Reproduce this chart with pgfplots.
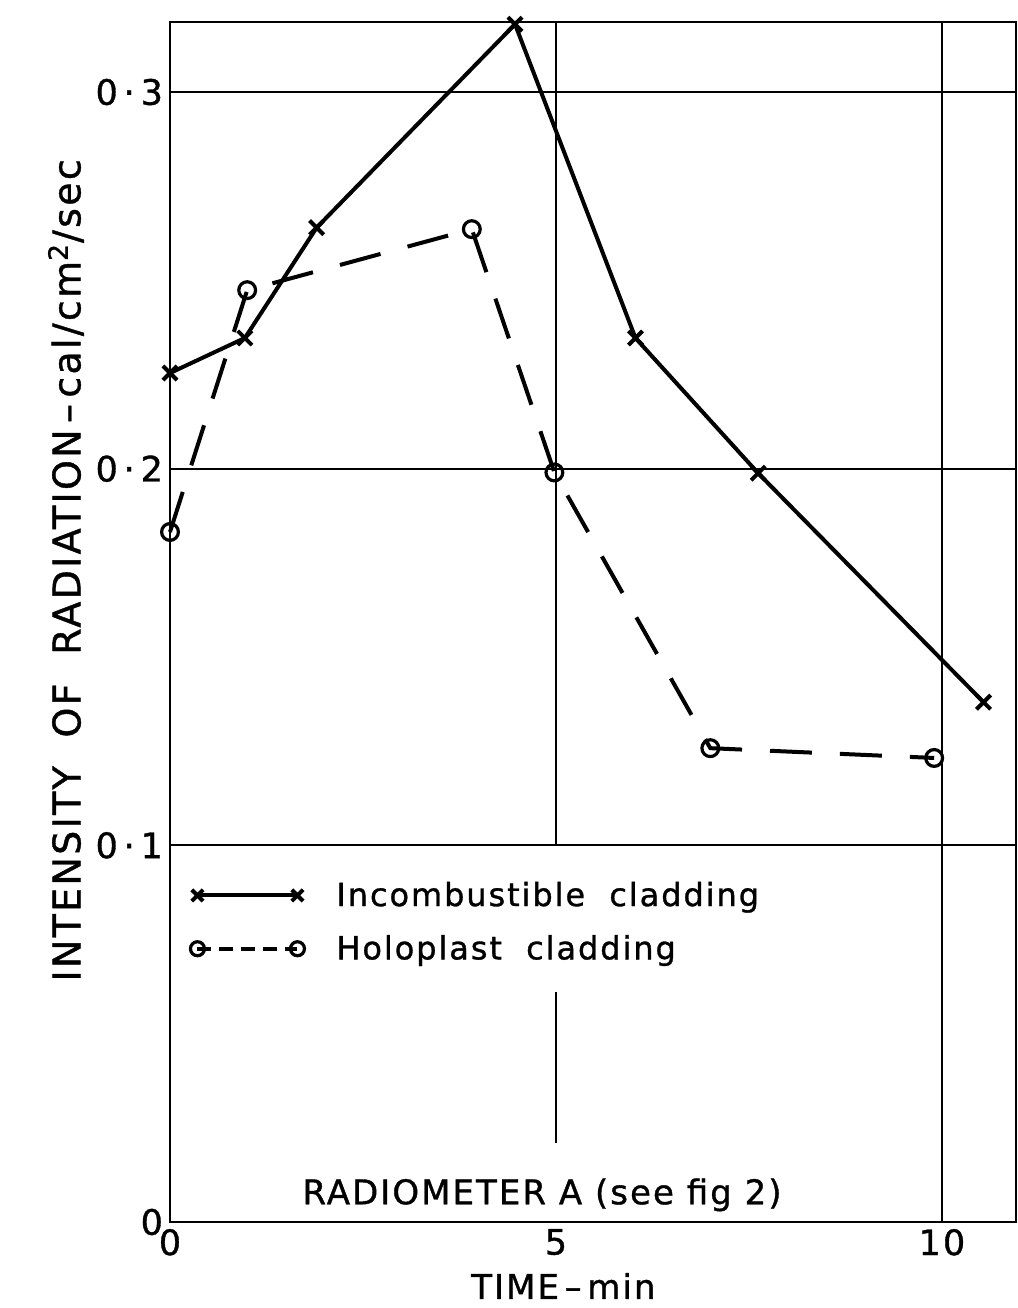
\documentclass[border=0pt]{standalone}
\usepackage{fontspec}
\setmainfont[LetterSpace=6, FakeBold=1]{DejaVu Sans}
\usepackage{pgfplots}
\pgfplotsset{compat=1.18}
\pgfplotsset{
  solidlegend/.style={legend image code/.code={\draw[##1, mark size=4pt] plot coordinates {(0pt,0pt) (50pt,0pt)};}},
  dashlegend/.style={legend image code/.code={\draw[##1, mark size=3.5pt, dash pattern=on 7pt off 4pt] plot coordinates {(0pt,0pt) (50pt,0pt)};}},
}
\begin{document}
\begin{tikzpicture}[font=\fontsize{16}{19}\selectfont]
\useasboundingbox (-85pt,-43pt) rectangle (424pt,611pt);
\begin{axis}[
  scale only axis, width=423pt, height=600pt,
  xmin=0, xmax=10.96, ymin=0, ymax=0.3186,
  axis line style={line width=1.2pt},
  xtick={0,5,10}, xticklabels={0,5,10},
  ytick={0,0.1,0.2,0.3}, yticklabels={0, 0\,·\,1, 0\,·\,2, 0\,·\,3},
  major tick length=0pt,
  /pgf/number format/assume math mode=true,
  tick label style={font=\fontsize{17.5}{20}\selectfont},
  xlabel={TIME\,–\,min},
  xlabel style={at={([yshift=-32pt]axis description cs:0.465,0)}, anchor=center, font=\fontsize{17}{20}\selectfont},
  ylabel={INTENSITY\ \ OF\ \ RADIATION\,–\,cal/cm\textsuperscript{2}/sec},
  ylabel style={at={([xshift=-52pt]axis description cs:0,0.543)}, anchor=center, font=\fontsize{19}{22}\selectfont},
  clip=false,
  legend style={at={(axis cs:0.26,0.0915)}, anchor=north west, draw=none, fill=none,
    inner sep=0pt, row sep=9pt, font=\fontsize{16}{19}\selectfont, cells={anchor=west},
    /tikz/every odd column/.append style={column sep=14pt}},
]
% grid lines
\addplot[line width=0.9pt, forget plot] coordinates {(0,0.1) (10.96,0.1)};
\addplot[line width=0.9pt, forget plot] coordinates {(0,0.2) (10.96,0.2)};
\addplot[line width=0.9pt, forget plot] coordinates {(0,0.3) (10.96,0.3)};
\addplot[line width=0.9pt, forget plot] coordinates {(5,0.1) (5,0.3186)};
\addplot[line width=0.9pt, forget plot] coordinates {(5,0.021) (5,0.061)};
\addplot[line width=0.9pt, forget plot] coordinates {(10,0) (10,0.3186)};
% data
\addplot[line width=2pt, mark=x, mark size=5pt, mark options={line width=2pt}, solidlegend]
  coordinates {(0,0.2254) (0.97,0.2347) (1.9,0.264) (4.47,0.318) (6.03,0.2347) (7.62,0.1988) (10.54,0.138)};
\addlegendentry{Incombustible\ \ cladding}
\addplot[line width=2pt, dash pattern=on 21pt off 14pt, mark=o, mark size=4.2pt,
  mark options={solid, fill=white, line width=1.6pt}, dashlegend]
  coordinates {(0,0.1832) (1.0,0.2474) (3.91,0.2636) (4.98,0.1990) (7.0,0.1258) (9.9,0.1232)};
\addlegendentry{Holoplast\ \ cladding}
\node[font=\fontsize{17}{20}\selectfont] at (axis cs:4.82,0.0072) {RADIOMETER A (see fig 2)};
\end{axis}
\end{tikzpicture}
\end{document}
